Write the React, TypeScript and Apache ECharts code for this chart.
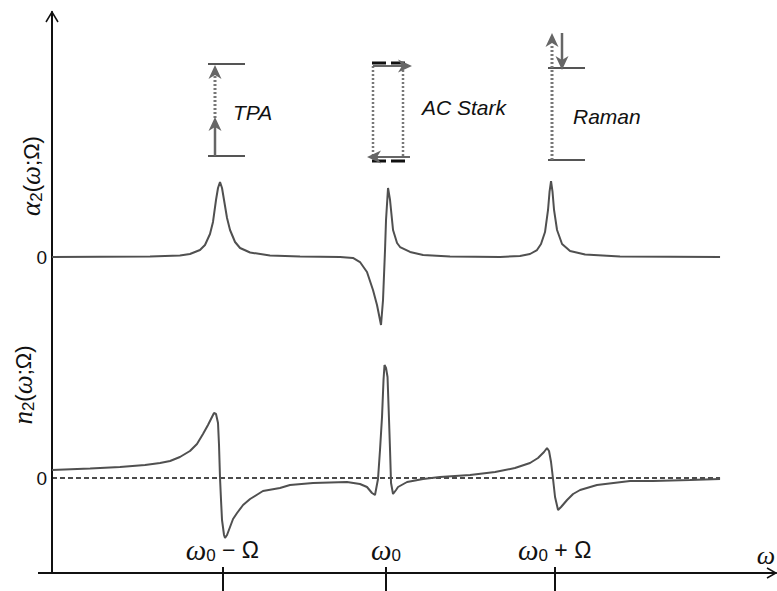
import React, { useEffect, useRef } from "react";
import * as echarts from "echarts";

// ---- axis ranges (ω measured in units of Ω, ω0 = 0) ----
const X_MIN = -2;
const X_MAX = 2.335;

// tick positions on the ω axis and their labels
const tickOmega = [-0.98, 0, 1.01];
const tickBase = ["ω", "ω", "ω"];
const tickSub = ["0", "0", "0"];
const tickTail = [" − Ω", "", " + Ω"];

// ---- α2(ω;Ω) curve ----
const alphaOmega = [
  -2.0, -1.413, -1.234, -1.174, -1.114, -1.084, -1.054, -1.036, -1.018, -1.006, -0.994,
  -0.982, -0.97, -0.952, -0.934, -0.904, -0.874, -0.814, -0.695, -0.515, -0.275,
  -0.198, -0.156, -0.114, -0.078, -0.054, -0.03, -0.018, -0.006, 0.0, 0.012,
  0.024, 0.042, 0.066, 0.084, 0.144, 0.222, 0.383, 0.683, 0.802, 0.862,
  0.904, 0.928, 0.952, 0.97, 0.979, 0.988, 0.997, 1.006, 1.024, 1.054,
  1.102, 1.192, 1.401, 2.0,
];
const alphaValues = [
  0, 0.007, 0.02, 0.04, 0.093, 0.16, 0.307, 0.467, 0.76, 0.92, 1.0,
  0.92, 0.76, 0.52, 0.36, 0.2, 0.12, 0.06, 0.02, 0.007, 0,
  -0.013, -0.067, -0.2, -0.44, -0.64, -0.907, -0.573, 0.093, 0.493, 0.92,
  0.76, 0.36, 0.187, 0.133, 0.067, 0.027, 0.007, 0, 0.013, 0.04,
  0.093, 0.173, 0.333, 0.627, 0.867, 1.013, 0.867, 0.627, 0.36, 0.173,
  0.08, 0.033, 0.007, 0,
];

// ---- n2(ω;Ω) curve ----
const nOmega = [
  -2.0, -1.772, -1.593, -1.443, -1.353, -1.293, -1.234, -1.174, -1.132, -1.096, -1.066,
  -1.048, -1.03, -1.018, -1.006, -1.0, -0.994, -0.988, -0.982, -0.97, -0.964,
  -0.952, -0.934, -0.916, -0.892, -0.856, -0.814, -0.737, -0.635, -0.575, -0.437,
  -0.234, -0.156, -0.114, -0.084, -0.066, -0.048, -0.036, -0.024, -0.015, -0.009,
  0.0, 0.009, 0.018, 0.024, 0.03, 0.042, 0.06, 0.072, 0.126, 0.222,
  0.323, 0.503, 0.653, 0.772, 0.862, 0.91, 0.946, 0.964, 0.976, 0.988,
  1.0, 1.012, 1.03, 1.048, 1.084, 1.12, 1.162, 1.263, 1.461, 1.599,
  1.82, 2.0,
];
const nValues = [
  0.08, 0.095, 0.11, 0.13, 0.15, 0.17, 0.21, 0.27, 0.34, 0.44, 0.53,
  0.59, 0.65, 0.64, 0.55, 0.33, 0, -0.22, -0.42, -0.57, -0.6,
  -0.57, -0.49, -0.41, -0.35, -0.27, -0.21, -0.13, -0.1, -0.07, -0.05,
  -0.04, -0.06, -0.09, -0.15, -0.17, -0.01, 0.28, 0.61, 0.98, 1.13,
  1.1, 1.01, 0.58, 0.28, -0.05, -0.16, -0.12, -0.09, -0.04, -0.01,
  0.01, 0.03, 0.06, 0.1, 0.15, 0.2, 0.26, 0.3, 0.27, 0.16,
  -0.01, -0.19, -0.32, -0.29, -0.22, -0.16, -0.12, -0.07, -0.03, -0.03,
  -0.02, -0.01,
];

// dashed zero reference of the n2 panel
const zeroLineOmega = [-2.0, 2.0];
const zeroLineValues = [0, 0];

const zip = (xs: number[], ys: number[]) => xs.map((x, i) => [x, ys[i]]);

const CURVE = "#505050";
const INK = "#111111";
const ARROW = "#666666";
const LEVEL = "#555555";

function arrowHead(tx: number, ty: number, dx: number, dy: number, L = 14, W = 13, notch = 4) {
  const p = (a: number, b: number) => [tx + a * dx - b * dy, ty + a * dy + b * dx];
  return {
    type: "polygon",
    shape: { points: [p(0, 0), p(-L, -W / 2), p(-L + notch, 0), p(-L, W / 2)] },
    style: { fill: ARROW },
    z: 10,
  };
}
const seg = (x1: number, y1: number, x2: number, y2: number, stroke: string, lineWidth: number, lineDash?: number[]) => ({
  type: "line",
  shape: { x1, y1, x2, y2 },
  style: { stroke, lineWidth, lineDash: lineDash || null },
  z: 9,
});
const label = (x: number, y: number, text: string) => ({
  type: "text",
  x,
  y,
  style: {
    text,
    fill: INK,
    fontSize: 21,
    fontStyle: "italic",
    fontFamily: "Liberation Sans",
    align: "left",
    verticalAlign: "middle",
  },
  z: 10,
});

const DOT = [2, 2];

export default function App() {
  const ref = useRef<HTMLDivElement>(null);

  useEffect(() => {
    document.body.style.margin = "0";
    const chart = echarts.init(ref.current!, null, { renderer: "svg" });

    const tickRich = {
      w: { fontFamily: "Liberation Serif", fontStyle: "italic", fontSize: 29, color: INK },
      s: { fontFamily: "Liberation Sans", fontSize: 17, color: INK, padding: [12, 0, 0, 0] },
      t: { fontFamily: "Liberation Sans", fontSize: 23, color: INK },
    };
    const tickFormatter = (v: number) => {
      let best = 0;
      tickOmega.forEach((t, i) => {
        if (Math.abs(t - v) < Math.abs(tickOmega[best] - v)) best = i;
      });
      const tail = tickTail[best] ? `{t|${tickTail[best]}}` : "";
      return `{w|${tickBase[best]}}{s|${tickSub[best]}}${tail}`;
    };

    const zeroLabel = {
      show: true,
      formatter: (v: number) => (Math.abs(v) < 1e-9 ? "0" : ""),
      color: INK,
      fontSize: 19,
      fontFamily: "Liberation Sans",
      margin: 5,
    };

    const axisNameRich = {
      g: { fontFamily: "Liberation Serif", fontStyle: "italic", fontSize: 27, fill: INK },
      s: { fontFamily: "Liberation Sans", fontSize: 17, fill: INK, padding: [11, 0, 0, 0] },
      p: { fontFamily: "Liberation Sans", fontSize: 22, fill: INK },
    };

    const option: any = {
      animation: false,
      backgroundColor: "#ffffff",
      grid: [
        { left: 52, right: 1, top: 12, bottom: 18 },
        { left: 52, right: 1, top: 167, height: 180 },
        { left: 52, right: 1, top: 348, height: 240 },
      ],
      xAxis: [
        {
          gridIndex: 0,
          type: "value",
          min: X_MIN,
          max: X_MAX,
          position: "bottom",
          axisLine: { show: true, onZero: false, lineStyle: { color: INK, width: 2 } },
          axisTick: { show: true, customValues: tickOmega, length: 20, inside: false, lineStyle: { color: INK, width: 2 } },
          axisLabel: { show: true, customValues: tickOmega, inside: true, margin: 9, formatter: tickFormatter, rich: tickRich },
          splitLine: { show: false },
        },
        {
          gridIndex: 0,
          type: "value",
          min: X_MIN,
          max: X_MAX,
          position: "bottom",
          offset: 0,
          axisLine: { show: false, onZero: false },
          axisTick: { show: true, customValues: tickOmega, length: 6, inside: true, lineStyle: { color: INK, width: 2 } },
          axisLabel: { show: false },
          splitLine: { show: false },
        },
        { gridIndex: 1, type: "value", min: X_MIN, max: X_MAX, show: false },
        { gridIndex: 2, type: "value", min: X_MIN, max: X_MAX, show: false },
      ],
      yAxis: [
        {
          gridIndex: 0,
          type: "value",
          min: 0,
          max: 1,
          position: "left",
          axisLine: { show: true, onZero: false, lineStyle: { color: INK, width: 2 } },
          axisTick: { show: false },
          axisLabel: { show: false },
          splitLine: { show: false },
        },
        {
          gridIndex: 1,
          type: "value",
          min: -1.2,
          max: 1.2,
          interval: 1.2,
          axisLine: { show: false, onZero: false },
          axisTick: { show: false },
          axisLabel: zeroLabel,
          splitLine: { show: false },
        },
        {
          gridIndex: 2,
          type: "value",
          min: -1.1,
          max: 1.3,
          axisLine: { show: false, onZero: false },
          axisTick: { show: false },
          axisLabel: { ...zeroLabel, customValues: [0] },
          splitLine: { show: false },
        },
      ],
      series: [
        {
          type: "line",
          xAxisIndex: 2,
          yAxisIndex: 1,
          data: zip(alphaOmega, alphaValues),
          showSymbol: false,
          clip: false,
          lineStyle: { color: CURVE, width: 2 },
        },
        {
          type: "line",
          xAxisIndex: 3,
          yAxisIndex: 2,
          data: zip(zeroLineOmega, zeroLineValues),
          showSymbol: false,
          lineStyle: { color: INK, width: 1.6, type: [5, 3] },
        },
        {
          type: "line",
          xAxisIndex: 3,
          yAxisIndex: 2,
          data: zip(nOmega, nValues),
          showSymbol: false,
          clip: false,
          lineStyle: { color: CURVE, width: 2 },
        },
      ],
      graphic: {
        elements: [
          // axis extensions and open arrowheads
          seg(38, 573, 53, 573, INK, 2),
          { type: "polyline", shape: { points: [[46, 22], [52, 12], [58, 22]] }, style: { stroke: INK, lineWidth: 1.5, fill: null } },
          { type: "polyline", shape: { points: [[767, 568], [776, 573], [767, 578]] }, style: { stroke: INK, lineWidth: 1.5, fill: null } },
          {
            type: "text",
            x: 775,
            y: 555,
            style: { text: "ω", fill: INK, fontSize: 26, fontStyle: "italic", fontFamily: "Liberation Serif", align: "right", verticalAlign: "middle" },
          },
          // axis names
          {
            type: "text",
            x: 31,
            y: 176,
            rotation: Math.PI / 2,
            style: { text: "{g|α}{s|2}{p|(}{g|ω}{p|;Ω)}", rich: axisNameRich, align: "center", verticalAlign: "middle" },
          },
          {
            type: "text",
            x: 23,
            y: 385,
            rotation: Math.PI / 2,
            style: { text: "{g|n}{s|2}{p|(}{g|ω}{p|;Ω)}", rich: axisNameRich, align: "center", verticalAlign: "middle" },
          },
          // TPA
          seg(208, 64, 245, 64, LEVEL, 2),
          seg(208, 156, 245, 156, LEVEL, 2),
          seg(215, 156, 215, 126, ARROW, 2.5),
          seg(215, 118, 215, 74, "#777777", 3, DOT),
          arrowHead(215, 117, 0, -1),
          arrowHead(215, 65, 0, -1),
          label(233, 112, "TPA"),
          // AC Stark
          seg(372, 63, 406, 63, INK, 3, [14, 5]),
          seg(372, 161, 406, 161, INK, 3, [14, 5]),
          seg(373, 66, 373, 157, "#777777", 2.5, DOT),
          seg(403, 66, 403, 157, "#777777", 2.5, DOT),
          seg(373, 66, 402, 66, ARROW, 2),
          arrowHead(412, 66, 1, 0),
          seg(410, 157, 377, 157, ARROW, 2),
          arrowHead(367, 157, -1, 0),
          label(422, 107, "AC Stark"),
          // Raman
          seg(548, 68, 585, 68, LEVEL, 2),
          seg(548, 160, 585, 160, LEVEL, 2),
          seg(552, 160, 552, 44, "#777777", 3, DOT),
          arrowHead(552, 33, 0, -1),
          seg(562, 33, 562, 60, ARROW, 2.5),
          arrowHead(562, 70, 0, 1),
          label(573, 116, "Raman"),
        ],
      },
    };

    chart.setOption(option);
    return () => chart.dispose();
  }, []);

  return <div ref={ref} style={{ width: 777, height: 591 }} />;
}
